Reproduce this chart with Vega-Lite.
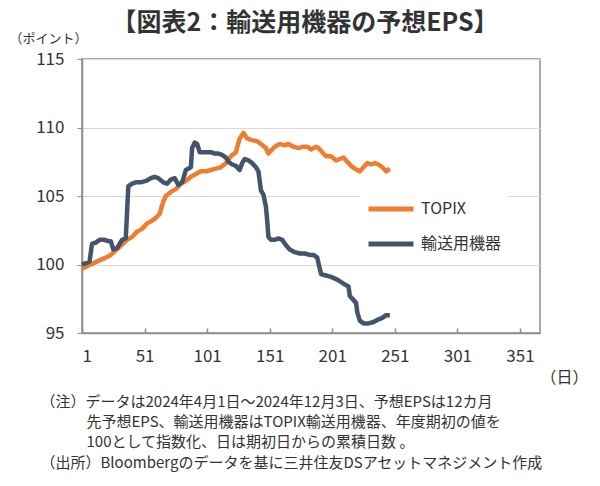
{
  "$schema": "https://vega.github.io/schema/vega-lite/v6.json",
  "width": 458,
  "height": 274,
  "autosize": {"type": "none"},
  "padding": {"left": 82, "top": 59, "right": 60, "bottom": 153},
  "background": "white",
  "config": {
    "font": "Noto Sans CJK JP",
    "view": {"stroke": "#8c8c8c", "strokeWidth": 1.5}
  },
  "title": {
    "text": "【図表2：輸送用機器の予想EPS】",
    "fontSize": 25,
    "fontWeight": "bold",
    "color": "#333333",
    "anchor": "middle",
    "dx": -6,
    "offset": -4,
    "font": "Noto Sans CJK JP"
  },
  "data": {
    "values": [
      {"series": "TOPIX", "day": 1, "value": 99.7},
      {"series": "TOPIX", "day": 8, "value": 100.0},
      {"series": "TOPIX", "day": 15, "value": 100.3},
      {"series": "TOPIX", "day": 20, "value": 100.5},
      {"series": "TOPIX", "day": 24, "value": 100.7},
      {"series": "TOPIX", "day": 30, "value": 101.2},
      {"series": "TOPIX", "day": 37, "value": 101.8},
      {"series": "TOPIX", "day": 41, "value": 102.0},
      {"series": "TOPIX", "day": 45, "value": 102.4},
      {"series": "TOPIX", "day": 49, "value": 102.6},
      {"series": "TOPIX", "day": 53, "value": 103.0},
      {"series": "TOPIX", "day": 57, "value": 103.2},
      {"series": "TOPIX", "day": 60, "value": 103.4},
      {"series": "TOPIX", "day": 63, "value": 103.7},
      {"series": "TOPIX", "day": 66, "value": 104.6},
      {"series": "TOPIX", "day": 68, "value": 105.0},
      {"series": "TOPIX", "day": 72, "value": 105.3},
      {"series": "TOPIX", "day": 76, "value": 105.5},
      {"series": "TOPIX", "day": 80, "value": 105.9},
      {"series": "TOPIX", "day": 84, "value": 106.1},
      {"series": "TOPIX", "day": 88, "value": 106.4},
      {"series": "TOPIX", "day": 92, "value": 106.6},
      {"series": "TOPIX", "day": 96, "value": 106.8},
      {"series": "TOPIX", "day": 100, "value": 106.8},
      {"series": "TOPIX", "day": 104, "value": 106.9},
      {"series": "TOPIX", "day": 108, "value": 107.0},
      {"series": "TOPIX", "day": 112, "value": 107.1},
      {"series": "TOPIX", "day": 116, "value": 107.4},
      {"series": "TOPIX", "day": 120, "value": 107.9},
      {"series": "TOPIX", "day": 124, "value": 108.2},
      {"series": "TOPIX", "day": 127, "value": 109.2},
      {"series": "TOPIX", "day": 130, "value": 109.6},
      {"series": "TOPIX", "day": 133, "value": 109.2},
      {"series": "TOPIX", "day": 136, "value": 109.1},
      {"series": "TOPIX", "day": 141, "value": 109.0},
      {"series": "TOPIX", "day": 144, "value": 108.8},
      {"series": "TOPIX", "day": 148, "value": 108.5},
      {"series": "TOPIX", "day": 150, "value": 108.1},
      {"series": "TOPIX", "day": 152, "value": 108.3},
      {"series": "TOPIX", "day": 155, "value": 108.6},
      {"series": "TOPIX", "day": 159, "value": 108.8},
      {"series": "TOPIX", "day": 163, "value": 108.7},
      {"series": "TOPIX", "day": 166, "value": 108.8},
      {"series": "TOPIX", "day": 170, "value": 108.6},
      {"series": "TOPIX", "day": 174, "value": 108.5},
      {"series": "TOPIX", "day": 178, "value": 108.6},
      {"series": "TOPIX", "day": 181, "value": 108.6},
      {"series": "TOPIX", "day": 184, "value": 108.4},
      {"series": "TOPIX", "day": 188, "value": 108.6},
      {"series": "TOPIX", "day": 190, "value": 108.5},
      {"series": "TOPIX", "day": 193, "value": 108.2},
      {"series": "TOPIX", "day": 196, "value": 107.9},
      {"series": "TOPIX", "day": 200, "value": 107.9},
      {"series": "TOPIX", "day": 204, "value": 107.6},
      {"series": "TOPIX", "day": 207, "value": 107.7},
      {"series": "TOPIX", "day": 210, "value": 107.8},
      {"series": "TOPIX", "day": 213, "value": 107.5},
      {"series": "TOPIX", "day": 216, "value": 107.2},
      {"series": "TOPIX", "day": 219, "value": 107.0},
      {"series": "TOPIX", "day": 223, "value": 106.8},
      {"series": "TOPIX", "day": 226, "value": 107.1},
      {"series": "TOPIX", "day": 229, "value": 107.4},
      {"series": "TOPIX", "day": 232, "value": 107.3},
      {"series": "TOPIX", "day": 235, "value": 107.4},
      {"series": "TOPIX", "day": 238, "value": 107.3},
      {"series": "TOPIX", "day": 241, "value": 107.1},
      {"series": "TOPIX", "day": 244, "value": 106.8},
      {"series": "TOPIX", "day": 247, "value": 107.0},
      {"series": "輸送用機器", "day": 1, "value": 100.0},
      {"series": "輸送用機器", "day": 4, "value": 100.1},
      {"series": "輸送用機器", "day": 7, "value": 100.2},
      {"series": "輸送用機器", "day": 9, "value": 101.5},
      {"series": "輸送用機器", "day": 12, "value": 101.6},
      {"series": "輸送用機器", "day": 15, "value": 101.8},
      {"series": "輸送用機器", "day": 19, "value": 101.8},
      {"series": "輸送用機器", "day": 22, "value": 101.7},
      {"series": "輸送用機器", "day": 24, "value": 101.7},
      {"series": "輸送用機器", "day": 26, "value": 101.1},
      {"series": "輸送用機器", "day": 29, "value": 101.2},
      {"series": "輸送用機器", "day": 31, "value": 101.5},
      {"series": "輸送用機器", "day": 33, "value": 101.8},
      {"series": "輸送用機器", "day": 36, "value": 101.9},
      {"series": "輸送用機器", "day": 38, "value": 105.7},
      {"series": "輸送用機器", "day": 41, "value": 105.9},
      {"series": "輸送用機器", "day": 44, "value": 106.0},
      {"series": "輸送用機器", "day": 48, "value": 106.0},
      {"series": "輸送用機器", "day": 52, "value": 106.1},
      {"series": "輸送用機器", "day": 56, "value": 106.3},
      {"series": "輸送用機器", "day": 59, "value": 106.4},
      {"series": "輸送用機器", "day": 62, "value": 106.3},
      {"series": "輸送用機器", "day": 66, "value": 106.0},
      {"series": "輸送用機器", "day": 69, "value": 105.9},
      {"series": "輸送用機器", "day": 72, "value": 106.2},
      {"series": "輸送用機器", "day": 75, "value": 106.3},
      {"series": "輸送用機器", "day": 78, "value": 105.8},
      {"series": "輸送用機器", "day": 81, "value": 106.0},
      {"series": "輸送用機器", "day": 84, "value": 106.9},
      {"series": "輸送用機器", "day": 88, "value": 107.1},
      {"series": "輸送用機器", "day": 89, "value": 108.5},
      {"series": "輸送用機器", "day": 91, "value": 108.9},
      {"series": "輸送用機器", "day": 93, "value": 108.8},
      {"series": "輸送用機器", "day": 95, "value": 108.2},
      {"series": "輸送用機器", "day": 100, "value": 108.2},
      {"series": "輸送用機器", "day": 104, "value": 108.2},
      {"series": "輸送用機器", "day": 107, "value": 108.1},
      {"series": "輸送用機器", "day": 110, "value": 108.1},
      {"series": "輸送用機器", "day": 113, "value": 108.0},
      {"series": "輸送用機器", "day": 116, "value": 107.8},
      {"series": "輸送用機器", "day": 118, "value": 107.5},
      {"series": "輸送用機器", "day": 121, "value": 107.3},
      {"series": "輸送用機器", "day": 124, "value": 107.2},
      {"series": "輸送用機器", "day": 127, "value": 106.9},
      {"series": "輸送用機器", "day": 129, "value": 107.4},
      {"series": "輸送用機器", "day": 131, "value": 107.7},
      {"series": "輸送用機器", "day": 134, "value": 107.6},
      {"series": "輸送用機器", "day": 137, "value": 107.4},
      {"series": "輸送用機器", "day": 140, "value": 107.1},
      {"series": "輸送用機器", "day": 142, "value": 106.8},
      {"series": "輸送用機器", "day": 144, "value": 105.4},
      {"series": "輸送用機器", "day": 146, "value": 105.1},
      {"series": "輸送用機器", "day": 148, "value": 104.2},
      {"series": "輸送用機器", "day": 149, "value": 103.2},
      {"series": "輸送用機器", "day": 150, "value": 102.0},
      {"series": "輸送用機器", "day": 152, "value": 101.8},
      {"series": "輸送用機器", "day": 155, "value": 101.8},
      {"series": "輸送用機器", "day": 158, "value": 101.9},
      {"series": "輸送用機器", "day": 161, "value": 101.8},
      {"series": "輸送用機器", "day": 164, "value": 101.4},
      {"series": "輸送用機器", "day": 167, "value": 101.1},
      {"series": "輸送用機器", "day": 171, "value": 100.9},
      {"series": "輸送用機器", "day": 175, "value": 100.8},
      {"series": "輸送用機器", "day": 179, "value": 100.8},
      {"series": "輸送用機器", "day": 183, "value": 100.7},
      {"series": "輸送用機器", "day": 186, "value": 100.7},
      {"series": "輸送用機器", "day": 189, "value": 100.5},
      {"series": "輸送用機器", "day": 190, "value": 100.1},
      {"series": "輸送用機器", "day": 192, "value": 99.3},
      {"series": "輸送用機器", "day": 196, "value": 99.2},
      {"series": "輸送用機器", "day": 200, "value": 99.1},
      {"series": "輸送用機器", "day": 205, "value": 98.9},
      {"series": "輸送用機器", "day": 210, "value": 98.6},
      {"series": "輸送用機器", "day": 214, "value": 98.4},
      {"series": "輸送用機器", "day": 215, "value": 97.7},
      {"series": "輸送用機器", "day": 218, "value": 97.4},
      {"series": "輸送用機器", "day": 220, "value": 97.2},
      {"series": "輸送用機器", "day": 221, "value": 96.5},
      {"series": "輸送用機器", "day": 223, "value": 95.9},
      {"series": "輸送用機器", "day": 226, "value": 95.7},
      {"series": "輸送用機器", "day": 230, "value": 95.7},
      {"series": "輸送用機器", "day": 234, "value": 95.8},
      {"series": "輸送用機器", "day": 238, "value": 96.0},
      {"series": "輸送用機器", "day": 241, "value": 96.1},
      {"series": "輸送用機器", "day": 244, "value": 96.3},
      {"series": "輸送用機器", "day": 247, "value": 96.3}
    ]
  },
  "layer": [
    {
      "transform": [{"filter": "datum.series === 'TOPIX'"}],
      "mark": {"type": "line", "strokeWidth": 4.5, "strokeJoin": "round", "clip": false},
      "encoding": {
        "x": {
          "field": "day", "type": "quantitative",
          "scale": {"domain": [1, 367], "nice": false, "zero": false},
          "axis": {
            "orient": "bottom",
            "values": [1, 51, 101, 151, 201, 251, 301, 351],
            "grid": false,
            "tickSize": -5,
            "tickColor": "#8c8c8c",
            "tickWidth": 1.5,
            "domainColor": "#8c8c8c",
            "domainWidth": 1.5,
            "labelFontSize": 17,
            "labelColor": "#333333",
            "labelPadding": 20,
            "labelFont": "Noto Sans CJK JP",
            "title": "（日）",
            "titleFontSize": 16,
            "titleFontWeight": "normal",
            "titleColor": "#333333",
            "titleAnchor": "start",
            "titleAlign": "center",
            "titleBaseline": "middle",
            "titleX": 482,
            "titleY": 44
          }
        },
        "y": {
          "field": "value", "type": "quantitative",
          "scale": {"domain": [95, 115], "nice": false, "zero": false},
          "axis": {
            "orient": "left",
            "values": [95, 100, 105, 110, 115],
            "grid": true,
            "gridColor": "#d9d9d9",
            "gridWidth": 1.2,
            "tickSize": 5,
            "tickColor": "#8c8c8c",
            "domainColor": "#8c8c8c",
            "domainWidth": 1.5,
            "labelFontSize": 17,
            "labelColor": "#333333",
            "labelPadding": 13,
            "labelFont": "Noto Sans CJK JP",
            "title": "（ポイント）",
            "titleAngle": 0,
            "titleFontSize": 13,
            "titleFontWeight": "normal",
            "titleColor": "#333333",
            "titleAlign": "center",
            "titleBaseline": "middle",
            "titleX": -34,
            "titleY": -21
          }
        },
        "color": {
          "field": "series", "type": "nominal",
          "scale": {"domain": ["TOPIX", "輸送用機器"], "range": ["#ED7D31", "#44546A"]},
          "legend": {
            "orient": "none",
            "legendX": 278,
            "legendY": 119,
            "title": null,
            "fillColor": "white",
            "padding": 6,
            "symbolType": "stroke",
            "symbolSize": 2025,
            "symbolStrokeWidth": 5,
            "labelFontSize": 16,
            "labelColor": "#333333",
            "labelFont": "Noto Sans CJK JP",
            "labelOffset": 5,
            "rowPadding": 0
          }
        }
      }
    },
    {
      "transform": [{"filter": "datum.series === '輸送用機器'"}],
      "mark": {"type": "line", "strokeWidth": 4.5, "strokeJoin": "round", "clip": false},
      "encoding": {
        "x": {
          "field": "day", "type": "quantitative",
          "scale": {"domain": [1, 367], "nice": false, "zero": false},
          "axis": {
            "orient": "bottom",
            "labels": false,
            "ticks": false,
            "domain": false,
            "grid": false,
            "title": [
              "（注）データは2024年4月1日～2024年12月3日、予想EPSは12カ月",
              "（出所）Bloombergのデータを基に三井住友DSアセットマネジメント作成"
            ],
            "titleFontSize": 15,
            "titleFontWeight": "normal",
            "titleColor": "#333333",
            "titleFont": "Noto Sans CJK JP",
            "titleAnchor": "start",
            "titleAlign": "left",
            "titleBaseline": "top",
            "titleLineHeight": 61,
            "titleX": -42,
            "titleY": 61
          }
        },
        "y": {
          "field": "value", "type": "quantitative",
          "scale": {"domain": [95, 115], "nice": false, "zero": false},
          "axis": {
            "orient": "left",
            "labels": false,
            "ticks": false,
            "domain": false,
            "grid": false,
            "title": [
              "先予想EPS、輸送用機器はTOPIX輸送用機器、年度期初の値を",
              "100として指数化、日は期初日からの累積日数 。"
            ],
            "titleAngle": 0,
            "titleFontSize": 15,
            "titleFontWeight": "normal",
            "titleColor": "#333333",
            "titleFont": "Noto Sans CJK JP",
            "titleAlign": "left",
            "titleBaseline": "top",
            "titleLineHeight": 20,
            "titleX": 4,
            "titleY": 355
          }
        },
        "color": {
          "field": "series", "type": "nominal",
          "scale": {"domain": ["TOPIX", "輸送用機器"], "range": ["#ED7D31", "#44546A"]}
        }
      }
    }
  ],
  "resolve": {"axis": {"x": "independent", "y": "independent"}}
}
